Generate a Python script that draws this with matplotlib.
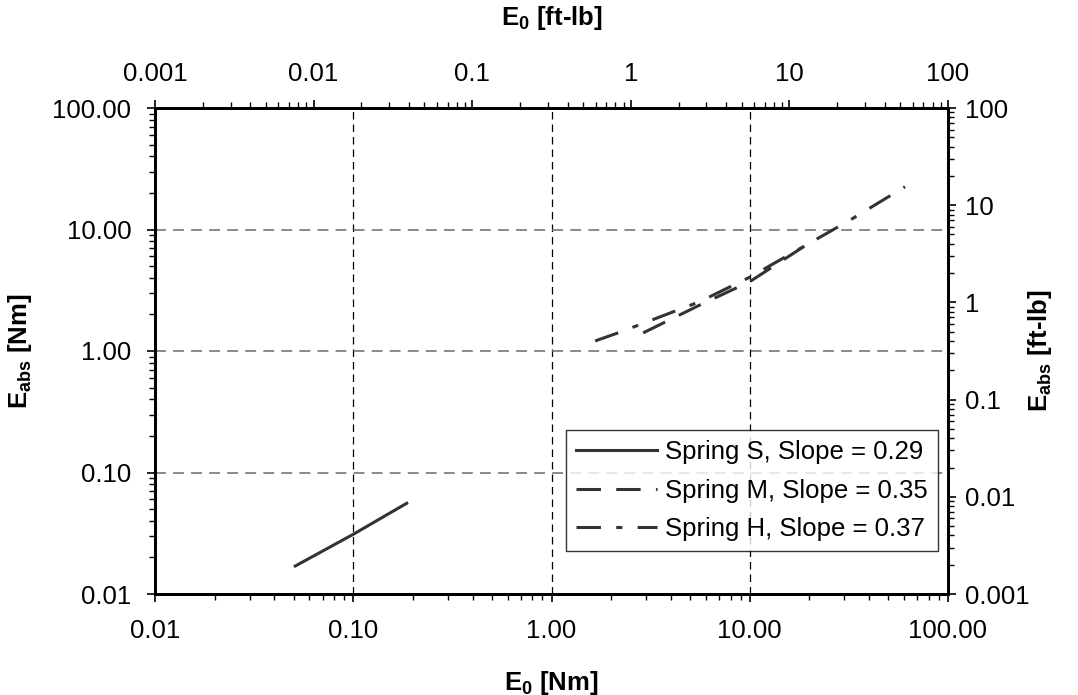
import numpy as np
import matplotlib
matplotlib.use("Agg")
import matplotlib.pyplot as plt
from matplotlib.ticker import FixedLocator, FixedFormatter, LogLocator, NullFormatter

plt.rcParams['font.family'] = ['Liberation Sans', 'DejaVu Sans']
plt.rcParams['mathtext.fontset'] = 'custom'
plt.rcParams['mathtext.rm'] = 'Liberation Sans'
plt.rcParams['mathtext.bf'] = 'Liberation Sans:bold'

# data (Nm)
s_e0 = [0.051, 0.10, 0.186]
s_eabs = [0.017, 0.031, 0.0558]
m_e0 = [2.9, 5.6, 10.0, 20.6]
m_eabs = [1.41, 2.39, 3.72, 8.0]
h_e0 = [1.66, 2.22, 5.6, 10.0, 32.1, 60.7]
h_eabs = [1.21, 1.43, 2.55, 4.05, 11.97, 22.5]

labels = ['Spring S, Slope = 0.29', 'Spring M, Slope = 0.35', 'Spring H, Slope = 0.37']

nm_ticks = [0.01, 0.1, 1, 10, 100]
nm_labels = ['0.01', '0.10', '1.00', '10.00', '100.00']
ftlb_ticks = [0.001, 0.01, 0.1, 1, 10, 100]
ftlb_labels = ['0.001', '0.01', '0.1', '1', '10', '100']

fs = 18.5
col = '#333333'

fig = plt.figure(figsize=(10.78, 6.95), dpi=100)
ax = fig.add_axes([155/1078, 1 - 594/695, (948-155)/1078, (594-108)/695])

ax.plot(s_e0, s_eabs, color=col, lw=2.2, ls='-', label=labels[0])
ax.plot(m_e0, m_eabs, color=col, lw=2.2, ls=(0, (8, 5)), label=labels[1])
ax.plot(h_e0, h_eabs, color=col, lw=2.2, ls=(0, (8, 5, 2, 5)), label=labels[2])

ax.set_xscale('log')
ax.set_yscale('log')
ax.set_xlim(0.01, 100)
ax.set_ylim(0.01, 100)

# grid lines
for v in [0.1, 1, 10]:
    ax.axvline(v, color='black', lw=0.9, ls=(0, (6, 4)), zorder=0)
    ax.axhline(v, color='#808080', lw=1.3, ls=(0, (6, 4)), zorder=0)

ax.xaxis.set_major_locator(FixedLocator(nm_ticks))
ax.xaxis.set_major_formatter(FixedFormatter(nm_labels))
ax.yaxis.set_major_locator(FixedLocator(nm_ticks))
ax.yaxis.set_major_formatter(FixedFormatter(nm_labels))
ax.set_xlabel(r'$\mathbf{E_0}$ [Nm]', fontsize=fs, fontweight='bold')
ax.set_ylabel(r'$\mathbf{E_{abs}}$ [Nm]', fontsize=fs, fontweight='bold')

ax_top = ax.twiny()
ax_top.set_xscale('log')
ax_top.set_xlim(0.001, 100)
ax_top.xaxis.set_major_locator(FixedLocator(ftlb_ticks))
ax_top.xaxis.set_major_formatter(FixedFormatter(ftlb_labels))
ax_top.set_xlabel(r'$\mathbf{E_0}$ [ft-lb]', fontsize=fs, fontweight='bold')

ax_right = ax.twinx()
ax_right.set_yscale('log')
ax_right.set_ylim(0.001, 100)
ax_right.yaxis.set_major_locator(FixedLocator(ftlb_ticks))
ax_right.yaxis.set_major_formatter(FixedFormatter(ftlb_labels))
ax_right.set_ylabel(r'$\mathbf{E_{abs}}$ [ft-lb]', fontsize=fs, fontweight='bold')

for a in (ax, ax_top, ax_right):
    for axis in (a.xaxis, a.yaxis):
        axis.set_minor_locator(LogLocator(base=10, subs=np.arange(2, 10)))
        axis.set_minor_formatter(NullFormatter())
    a.tick_params(which='major', direction='out', length=6, width=1.2, labelsize=fs, colors='black')
    a.tick_params(which='minor', direction='out', length=4, width=1.0)
    for sp in a.spines.values():
        sp.set_linewidth(2)

ax.tick_params(axis='x', which='major', pad=12)
ax.tick_params(axis='y', which='major', pad=11)
ax_top.tick_params(axis='x', which='major', pad=10)
ax_right.tick_params(axis='y', which='major', pad=6)

# axis label positions
ax.xaxis.set_label_coords(0.5, -0.183)
ax.xaxis.label.set_va('center')
ax.yaxis.set_label_coords(-0.170, 0.5)
ax.yaxis.label.set_va('center')
ax_top.xaxis.set_label_coords(0.5, 1.185)
ax_top.xaxis.label.set_va('center')
ax_right.yaxis.set_label_coords(1.116, 0.5)
ax_right.yaxis.label.set_va('center')

leg = ax.legend(loc='lower right', bbox_to_anchor=(0.987, 0.0885), fontsize=fs, frameon=True,
                fancybox=False, edgecolor='black', handlelength=3.15, handletextpad=0.3,
                borderpad=0.4, labelspacing=0.55, borderaxespad=0)
leg.get_frame().set_linewidth(1.0)

fig.savefig('out.png', dpi=100)
